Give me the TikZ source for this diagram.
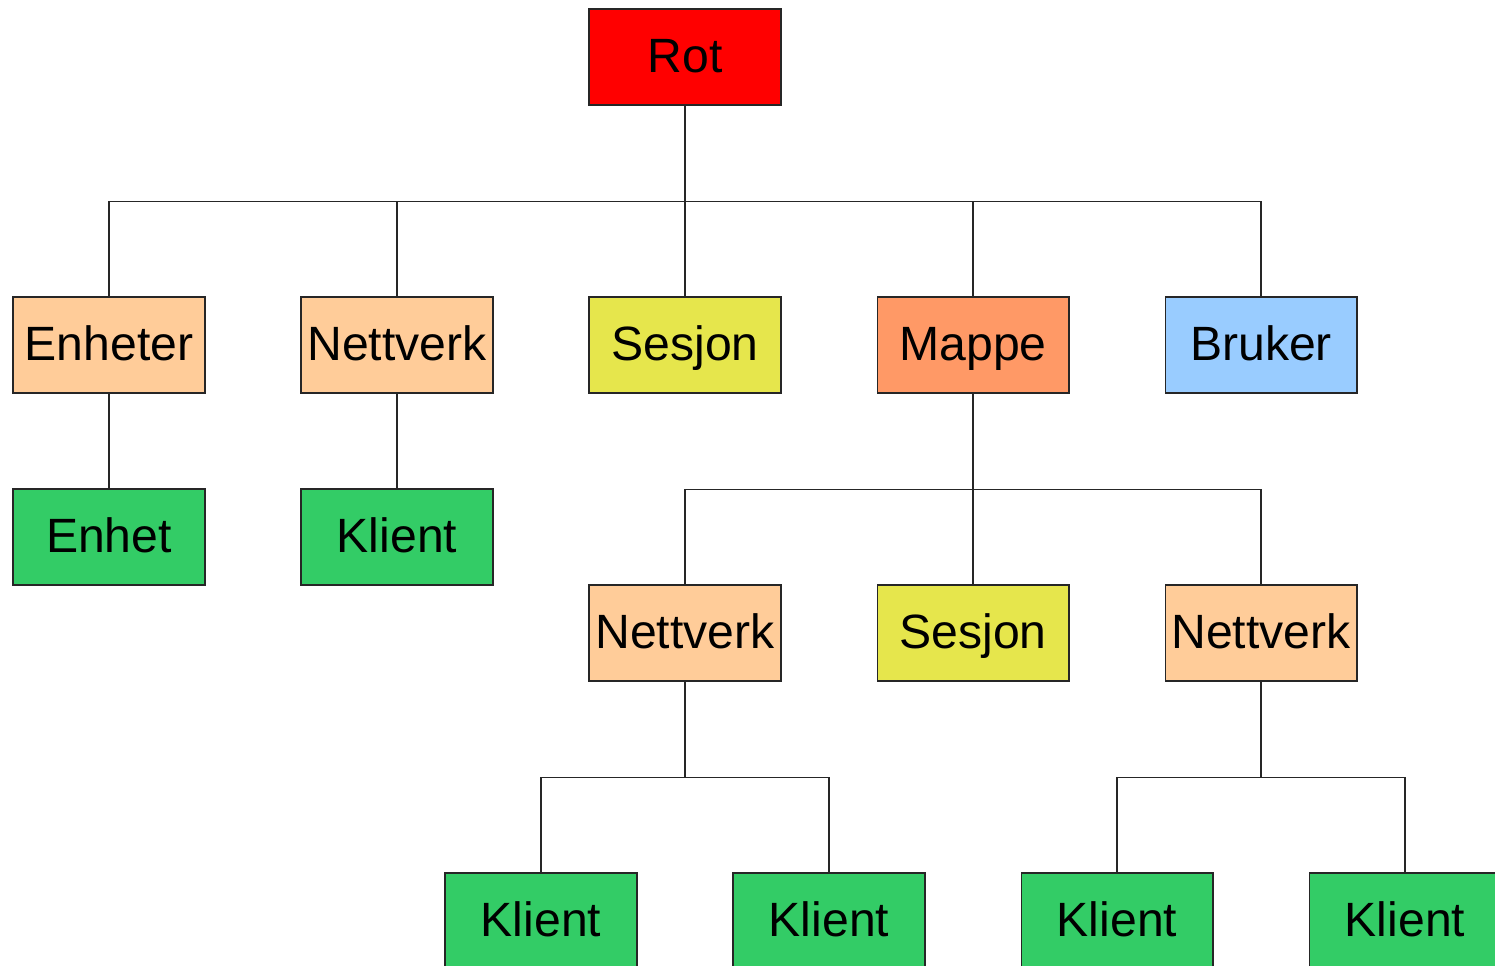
\documentclass[tikz,border=0pt]{standalone}
\usepackage{fontspec}
\setmainfont{Liberation Sans}
\definecolor{rotred}{HTML}{FF0000}
\definecolor{peach}{HTML}{FFCC99}
\definecolor{sesjonyellow}{HTML}{E6E64C}
\definecolor{mappeorange}{HTML}{FF9966}
\definecolor{brukerblue}{HTML}{99CCFF}
\definecolor{klientgreen}{HTML}{33CC66}
\tikzset{
    box/.style={draw=black!85, line width=0.6pt, minimum width=3.84cm, minimum height=1.92cm,
        inner sep=0pt, text height=18pt, text depth=0pt, font=\fontsize{27.4}{33}\selectfont},
    link/.style={line width=0.6pt, black!85}
}
\begin{document}
\begin{tikzpicture}[x=0.02cm, y=-0.02cm]
    \useasboundingbox (0,0) rectangle (1495,966);
    \clip (0,0) rectangle (1495,966);
    \node[box, fill=rotred]       (rot)     at ( 685,  57) {Rot};
    \node[box, fill=peach]        (enheter) at ( 109, 345) {Enheter};
    \node[box, fill=peach]        (nett)    at ( 397, 345) {Nettverk};
    \node[box, fill=sesjonyellow] (sesjon)  at ( 685, 345) {Sesjon};
    \node[box, fill=mappeorange]  (mappe)   at ( 973, 345) {Mappe};
    \node[box, fill=brukerblue]   (bruker)  at (1261, 345) {Bruker};
    \node[box, fill=klientgreen]  (enhet)   at ( 109, 537) {Enhet};
    \node[box, fill=klientgreen]  (klient)  at ( 397, 537) {Klient};
    \node[box, fill=peach]        (nettA)   at ( 685, 633) {Nettverk};
    \node[box, fill=sesjonyellow] (sesjonB) at ( 973, 633) {Sesjon};
    \node[box, fill=peach]        (nettC)   at (1261, 633) {Nettverk};
    \node[box, fill=klientgreen]  (klientA) at ( 541, 921) {Klient};
    \node[box, fill=klientgreen]  (klientB) at ( 829, 921) {Klient};
    \node[box, fill=klientgreen]  (klientC) at (1117, 921) {Klient};
    \node[box, fill=klientgreen]  (klientD) at (1405, 921) {Klient};
    % rot to first row
    \foreach \child in {enheter, nett, sesjon, mappe, bruker}
        \draw[link] (rot.south) -- ++(0,96) -| (\child.north);
    \draw[link] (enheter.south) -- (enhet.north);
    \draw[link] (nett.south) -- (klient.north);
    % mappe
    \foreach \child in {nettA, sesjonB, nettC}
        \draw[link] (mappe.south) -- ++(0,96) -| (\child.north);
    \foreach \child in {klientA, klientB}
        \draw[link] (nettA.south) -- ++(0,96) -| (\child.north);
    \foreach \child in {klientC, klientD}
        \draw[link] (nettC.south) -- ++(0,96) -| (\child.north);
\end{tikzpicture}
\end{document}
